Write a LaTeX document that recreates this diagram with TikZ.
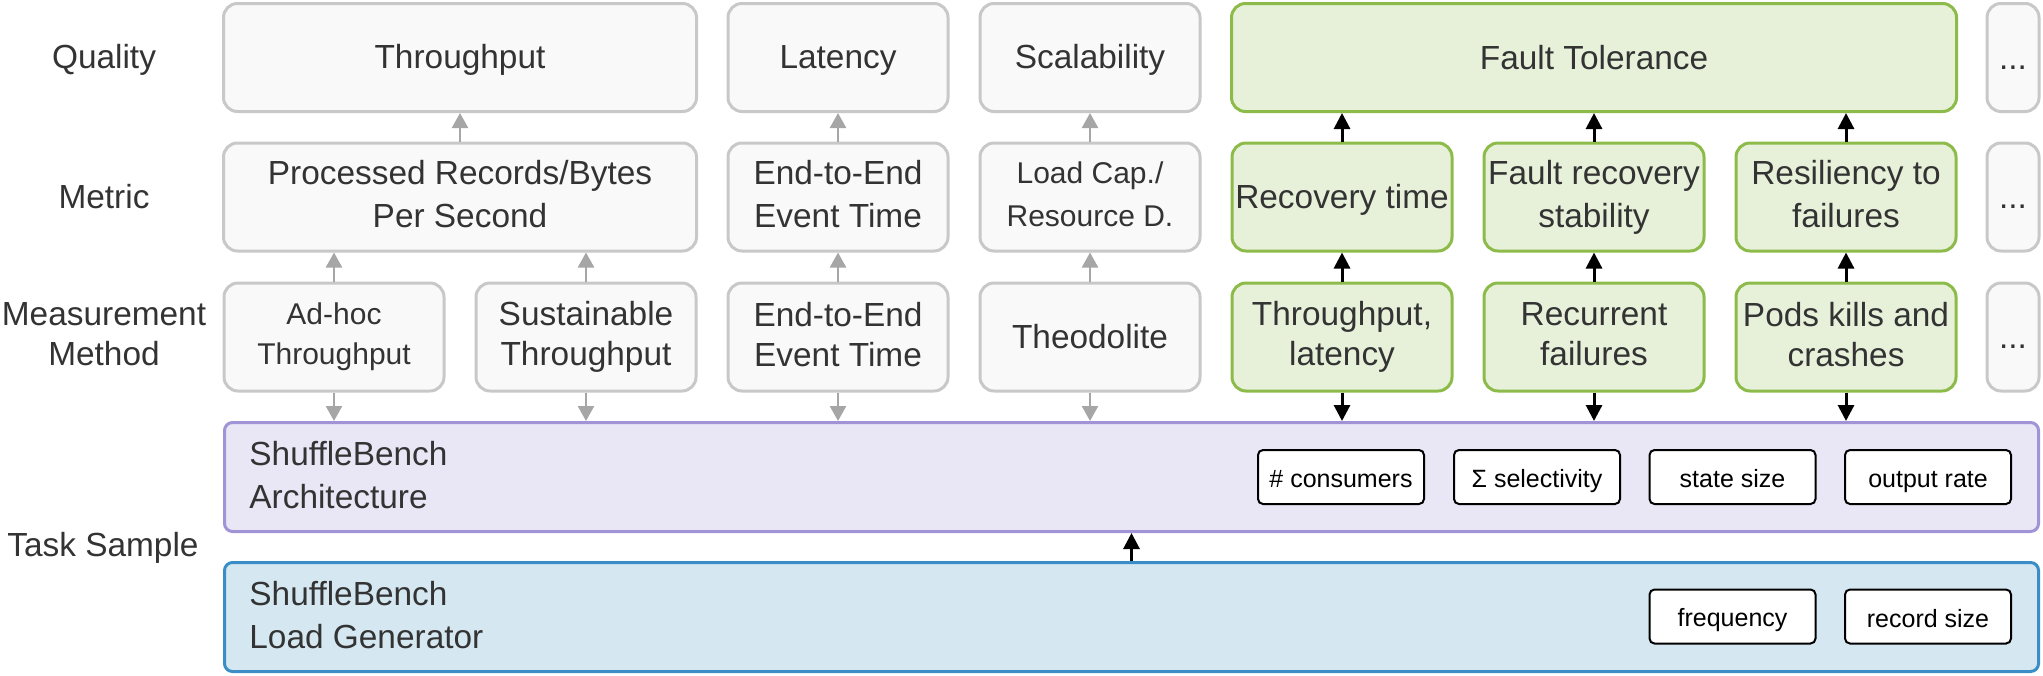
\documentclass[tikz,border=0pt]{standalone}
\usepackage{fontspec}
\setmainfont{Liberation Sans}
\usetikzlibrary{arrows.meta}
\definecolor{gfill}{HTML}{F9F9F9}
\definecolor{gline}{HTML}{C8C8C8}
\definecolor{vfill}{HTML}{E7F1DA}
\definecolor{vline}{HTML}{8DBB4A}
\definecolor{pfill}{HTML}{E9E6F6}
\definecolor{pline}{HTML}{A093D6}
\definecolor{bfill}{HTML}{D5E8F2}
\definecolor{bline}{HTML}{3A8DC5}
\definecolor{txt}{HTML}{333333}
\definecolor{arr}{HTML}{A6A6A6}
\newcommand{\bigstrut}{\rule[-3pt]{0pt}{17.6pt}}
\newcommand{\smlstrut}{\rule[-2.5pt]{0pt}{15.5pt}}
\tikzset{
  box/.style={draw, line width=1.5pt, rounded corners=7pt, align=center, text=txt,
    inner sep=0pt, minimum width=110pt, minimum height=54pt,
    font=\fontsize{16.7pt}{20pt}\selectfont,
    execute at begin node=\bigstrut, execute at end node=\bigstrut},
  gbox/.style={box, draw=gline, fill=gfill},
  vbox/.style={box, draw=vline, fill=vfill},
  wide/.style={font=\fontsize{16.7pt}{21.5pt}\selectfont},
  smalltext/.style={font=\fontsize{15pt}{20pt}\selectfont},
  smallwide/.style={font=\fontsize{15pt}{21.5pt}\selectfont},
  dotbox/.style={gbox, minimum width=26pt},
  bigbox/.style={draw, line width=1.5pt, rounded corners=4pt, minimum width=907pt, minimum height=54.5pt, inner sep=0pt},
  inbox/.style={draw=black, line width=1pt, rounded corners=2.5pt, fill=white, minimum width=83pt, minimum height=27pt, inner sep=0pt, font=\fontsize{12.5pt}{15pt}\selectfont,
    execute at begin node=\smlstrut},
  lbl/.style={align=center, text=txt, inner sep=0pt, font=\fontsize{16.7pt}{20pt}\selectfont,
    execute at begin node=\bigstrut, execute at end node=\bigstrut},
  boxlbl/.style={align=left, text=txt, inner sep=0pt, anchor=west, font=\fontsize{16.7pt}{21.5pt}\selectfont,
    execute at begin node=\bigstrut, execute at end node=\bigstrut},
  garr/.style={draw=arr, line width=1.2pt, -{Triangle[width=8pt,length=7.5pt]}},
  barr/.style={draw=black, line width=1.5pt, -{Triangle[width=8pt,length=8pt]}}
}
\begin{document}
\begin{tikzpicture}[x=0.5pt,y=-0.5pt]
\useasboundingbox (0,0) rectangle (2043,675);

% row labels
\node[lbl] (lq) at (104,57) {Quality};
\node[lbl] (lm) at (104,197) {Metric};
\node[lbl] (le) at (104,337) {Measurement\\Method};
\node[lbl] (lt) at (103,545) {Task Sample};

% quality row
\node[gbox, minimum width=236.5pt] (qt) at (460,57.5) {Throughput};
\node[gbox] (ql) at (838,57.5) {Latency};
\node[gbox] (qs) at (1090,57.5) {Scalability};
\node[vbox, minimum width=362.5pt] (qf) at (1594,57.5) {Fault Tolerance};
\node[dotbox] (qd) at (2013,57.5) {...};

% metric row
\node[gbox, wide, minimum width=236.5pt] (mt) at (460,197) {Processed Records/Bytes\\Per Second};
\node[gbox, wide] (ml) at (838,197) {End-to-End\\Event Time};
\node[gbox, smallwide] (ms) at (1090,197) {Load Cap./\\Resource D.};
\node[vbox, wide] (mr) at (1342,197) {Recovery time};
\node[vbox, wide] (mf) at (1594,197) {Fault recovery\\stability};
\node[vbox, wide] (mx) at (1846,197) {Resiliency to\\failures};
\node[dotbox] (md) at (2013,197) {...};

% measurement row
\node[gbox, smalltext] (ea) at (334,337) {Ad-hoc\\Throughput};
\node[gbox] (es) at (586,337) {Sustainable\\Throughput};
\node[gbox] (el) at (838,337) {End-to-End\\Event Time};
\node[gbox] (et) at (1090,337) {Theodolite};
\node[vbox] (er) at (1342,337) {Throughput,\\latency};
\node[vbox] (ef) at (1594,337) {Recurrent\\failures};
\node[vbox] (ex) at (1846,337) {Pods kills and\\crashes};
\node[dotbox] (ed) at (2013,337) {...};

% task sample
\node[bigbox, draw=pline, fill=pfill] (arch) at (1131.5,477) {};
\node[boxlbl] (archt) at (249,478) {ShuffleBench\\Architecture};
\node[bigbox, draw=bline, fill=bfill] (lg) at (1131.5,617) {};
\node[boxlbl] (lgt) at (249,618) {ShuffleBench\\Load Generator};

\node[inbox] (p1) at (1341,477) {\# consumers};
\node[inbox] (p2) at (1537,477) {Σ selectivity};
\node[inbox] (p3) at (1732.5,477) {state size};
\node[inbox] (p4) at (1928,477) {output rate};
\node[inbox] (f1) at (1732.5,616.5) {frequency};
\node[inbox] (f2) at (1928,616.5) {record size};

% gray arrows
\draw[garr] (mt.north) -- (qt.south);
\draw[garr] (ml.north) -- (ql.south);
\draw[garr] (ms.north) -- (qs.south);
\draw[garr] (ea.north) -- (ea.north |- mt.south);
\draw[garr] (es.north) -- (es.north |- mt.south);
\draw[garr] (el.north) -- (ml.south);
\draw[garr] (et.north) -- (ms.south);
\draw[garr] (ea.south) -- (ea.south |- arch.north);
\draw[garr] (es.south) -- (es.south |- arch.north);
\draw[garr] (el.south) -- (el.south |- arch.north);
\draw[garr] (et.south) -- (et.south |- arch.north);

% black arrows
\draw[barr] (mr.north) -- (mr.north |- qf.south);
\draw[barr] (mf.north) -- (qf.south);
\draw[barr] (mx.north) -- (mx.north |- qf.south);
\draw[barr] (er.north) -- (mr.south);
\draw[barr] (ef.north) -- (mf.south);
\draw[barr] (ex.north) -- (mx.south);
\draw[barr] (er.south) -- (er.south |- arch.north);
\draw[barr] (ef.south) -- (ef.south |- arch.north);
\draw[barr] (ex.south) -- (ex.south |- arch.north);
\draw[barr] (lg.north) -- (arch.south);
\end{tikzpicture}
\end{document}
